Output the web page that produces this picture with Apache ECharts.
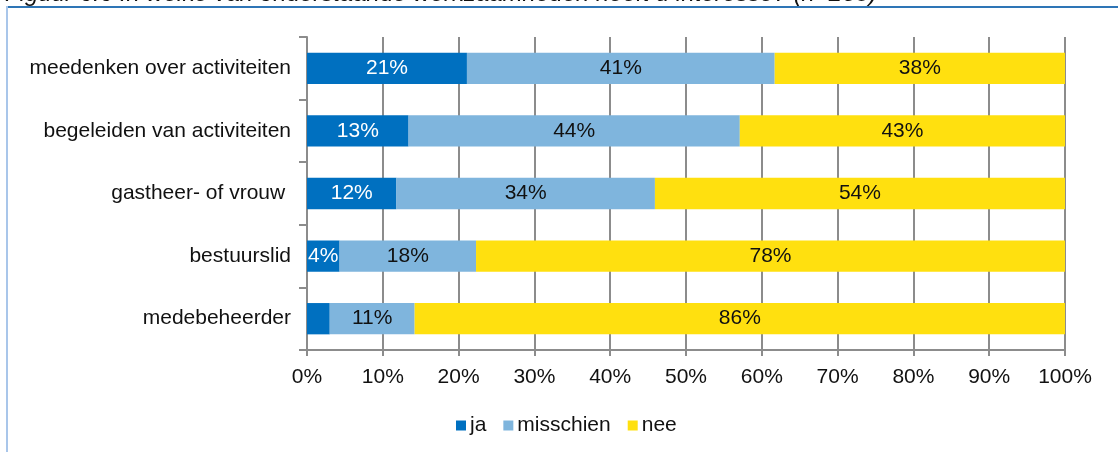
<!DOCTYPE html>
<html>
<head>
<meta charset="utf-8">
<script src="https://cdn.jsdelivr.net/npm/echarts@6/dist/echarts.min.js"></script>
<style>
html,body{margin:0;padding:0;background:#fff;}
#c{width:1118px;height:452px;}
</style>
</head>
<body>
<div id="c"></div>
<script>
const titleText = "Figuur 6.6 In welke van onderstaande werkzaamheden heeft u interesse? (n=238)";
const categories = ["meedenken over activiteiten", "begeleiden van activiteiten", "gastheer- of vrouw ", "bestuurslid", "medebeheerder"];
const seriesNames = ["ja", "misschien", "nee"];
const ja = [21.1, 13.4, 11.8, 4.3, 3.0];
const misschien = [40.6, 43.7, 34.1, 18.0, 11.2];
const nee = [38.3, 42.9, 54.1, 77.7, 85.8];
const xTicks = [0, 10, 20, 30, 40, 50, 60, 70, 80, 90, 100];
const colors = ["#0070C0", "#7FB5DD", "#FFE00F"];
const labelColors = ["#ffffff", "#111111", "#111111"];
const values = [ja, misschien, nee];

const font = "Liberation Sans, Arial, sans-serif";
const chart = echarts.init(document.getElementById('c'), null, {renderer: 'canvas'});
chart.setOption({
  animation: false,
  textStyle: {fontFamily: font},
  graphic: [
    {type: 'text', left: 5, top: -18, style: {text: titleText, font: 'italic 24px ' + font, fill: '#111'}},
    {type: 'line', shape: {x1: 6, y1: 7, x2: 1118, y2: 7}, style: {stroke: '#2E75B6', lineWidth: 2}},
    {type: 'line', shape: {x1: 7, y1: 6, x2: 7, y2: 452}, style: {stroke: '#A9C6EA', lineWidth: 2}}
  ],
  grid: {left: 307, right: 53, top: 37, bottom: 102, containLabel: false},
  legend: {
    bottom: 11, left: 451,
    itemWidth: 10, itemHeight: 10, itemGap: 17,
    icon: 'rect',
    textStyle: {fontSize: 21, color: '#111', fontFamily: font, padding: [0, 0, 0, -1]},
    data: seriesNames
  },
  xAxis: {
    type: 'value', min: 0, max: 100, interval: 10,
    axisLine: {show: true, lineStyle: {color: '#8C8C8C', width: 2}},
    axisTick: {show: true, length: 6, lineStyle: {color: '#8C8C8C', width: 2}},
    splitLine: {show: true, lineStyle: {color: '#8C8C8C', width: 2}},
    axisLabel: {formatter: v => v + '%', fontSize: 21, color: '#111', margin: 17, fontFamily: font}
  },
  yAxis: {
    type: 'category', data: categories, inverse: true,
    axisLine: {show: true, lineStyle: {color: '#8C8C8C', width: 2}},
    axisTick: {show: true, length: 8, lineStyle: {color: '#8C8C8C', width: 2}},
    axisLabel: {fontSize: 21, color: '#111', margin: 16, fontFamily: font}
  },
  series: seriesNames.map((name, i) => ({
    name: name, type: 'bar', stack: 'total', barWidth: '50%',
    itemStyle: {color: colors[i]},
    label: {
      show: true, position: 'inside', fontSize: 21, color: labelColors[i], fontFamily: font,
      formatter: p => p.value < 4 ? '' : Math.round(p.value) + '%'
    },
    data: values[i]
  }))
});
</script>
</body>
</html>
